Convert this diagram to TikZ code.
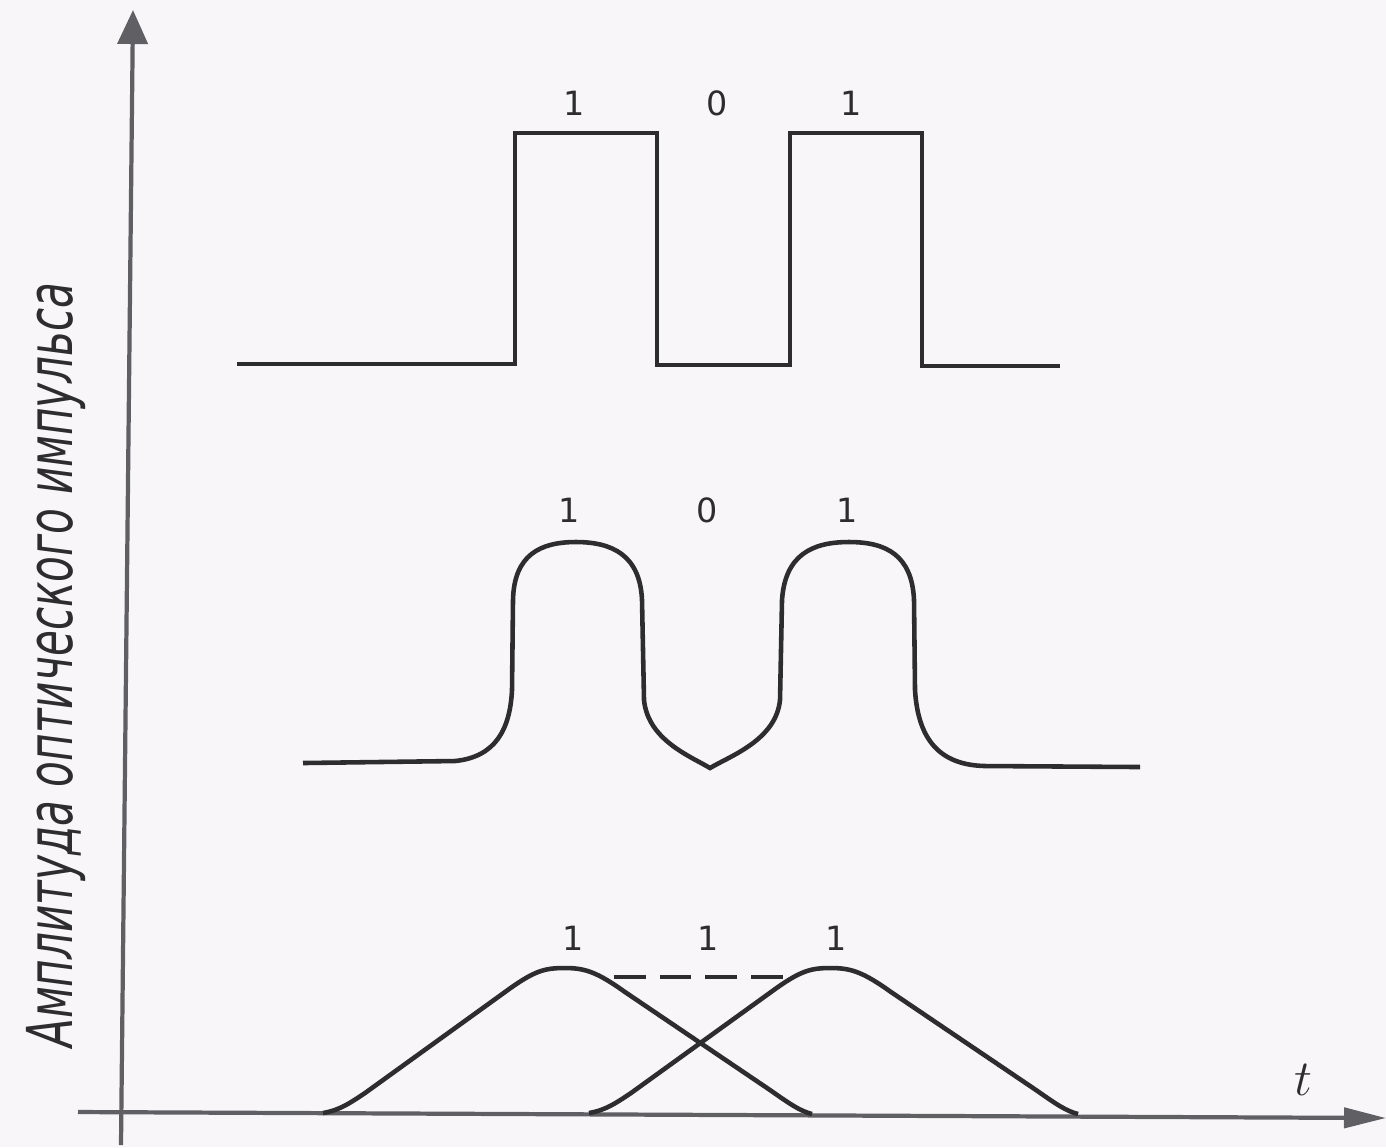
\documentclass[tikz,border=0pt]{standalone}
\usepackage{fontspec}
\setmainfont{DejaVu Sans}
\usetikzlibrary{arrows.meta}
\definecolor{bg}{RGB}{248,246,249}
\definecolor{ink}{RGB}{45,45,48}
\definecolor{axisc}{RGB}{95,95,100}
\begin{document}
\begin{tikzpicture}[x=0.01cm,y=-0.01cm,
  wave/.style={draw=ink,line width=1.3pt,line join=miter},
  axisline/.style={draw=axisc,line width=1.2pt},
  bit/.style={font=\fontsize{9.5}{10}\selectfont,text=ink,inner sep=0pt}]
\fill[bg] (0,0) rectangle (1386,1147);
\useasboundingbox (0,0) rectangle (1386,1147);
% axes
\coordinate (yb) at (121,1145);
\coordinate (yt) at (133,10);
\coordinate (xl) at (78,1112);
\coordinate (xr) at (1386,1118);
\draw[axisline,-{Triangle[length=0.34cm,width=0.3cm]}] (yb) -- (yt);
\draw[axisline,-{Triangle[length=0.42cm,width=0.2cm]}] (xl) -- (xr);
\node[font=\fontsize{14}{16}\selectfont,text=ink] (tlab) at (1303,1080) {$t$};
\node[rotate=90,text=ink,inner sep=0pt,font=\fontsize{18}{22}\selectfont\itshape] (ylab) at (56,665)
  {\resizebox{7.65cm}{\height}{Амплитуда оптического импульса}};
% square wave
\draw[wave] (237,364) -- (515,364) -- (515,133) -- (657,133) -- (657,365) -- (790,365)
  -- (790,133) -- (922,133) -- (922,366) -- (1060,366);
\node[bit] (s1) at (574,103) {1};
\node[bit] (s2) at (717,103) {0};
\node[bit] (s3) at (851,103) {1};
% smoothed wave
\draw[wave] (303,763) -- (455,761) .. controls (495,757) and (510,730) .. (512,690)
  -- (513,600) .. controls (514,555) and (540,542) .. (576,542)
  .. controls (612,542) and (640,555) .. (642,600)
  -- (644,700) .. controls (648,740) and (690,756) .. (710,768)
  .. controls (730,756) and (776,740) .. (780,700)
  -- (782,600) .. controls (785,555) and (812,542) .. (849,542)
  .. controls (886,542) and (912,555) .. (914,600)
  -- (915,690) .. controls (918,740) and (940,765) .. (985,766) -- (1140,767);
\node[bit] (m1) at (569,510) {1};
\node[bit] (m2) at (707,510) {0};
\node[bit] (m3) at (847,510) {1};
% overlapping pulses
\foreach \s in {0,266} {
  \draw[wave,shift={(\s,0)}] (323,1113) .. controls (340,1110) and (350,1103) .. (365,1093)
    -- (505,992) .. controls (535,970) and (545,968) .. (565,968)
    .. controls (585,968) and (597,972) .. (625,992)
    -- (770,1090) .. controls (790,1104) and (800,1111) .. (812,1114);
}
\coordinate (d1) at (614,977);
\coordinate (d2) at (790,977);
\draw[draw=ink,line width=1.1pt,dash pattern=on 9pt off 4pt] (d1) -- (d2);
\node[bit] (b1) at (573,938) {1};
\node[bit] (b2) at (708,938) {1};
\node[bit] (b3) at (836,938) {1};
\end{tikzpicture}
\end{document}
